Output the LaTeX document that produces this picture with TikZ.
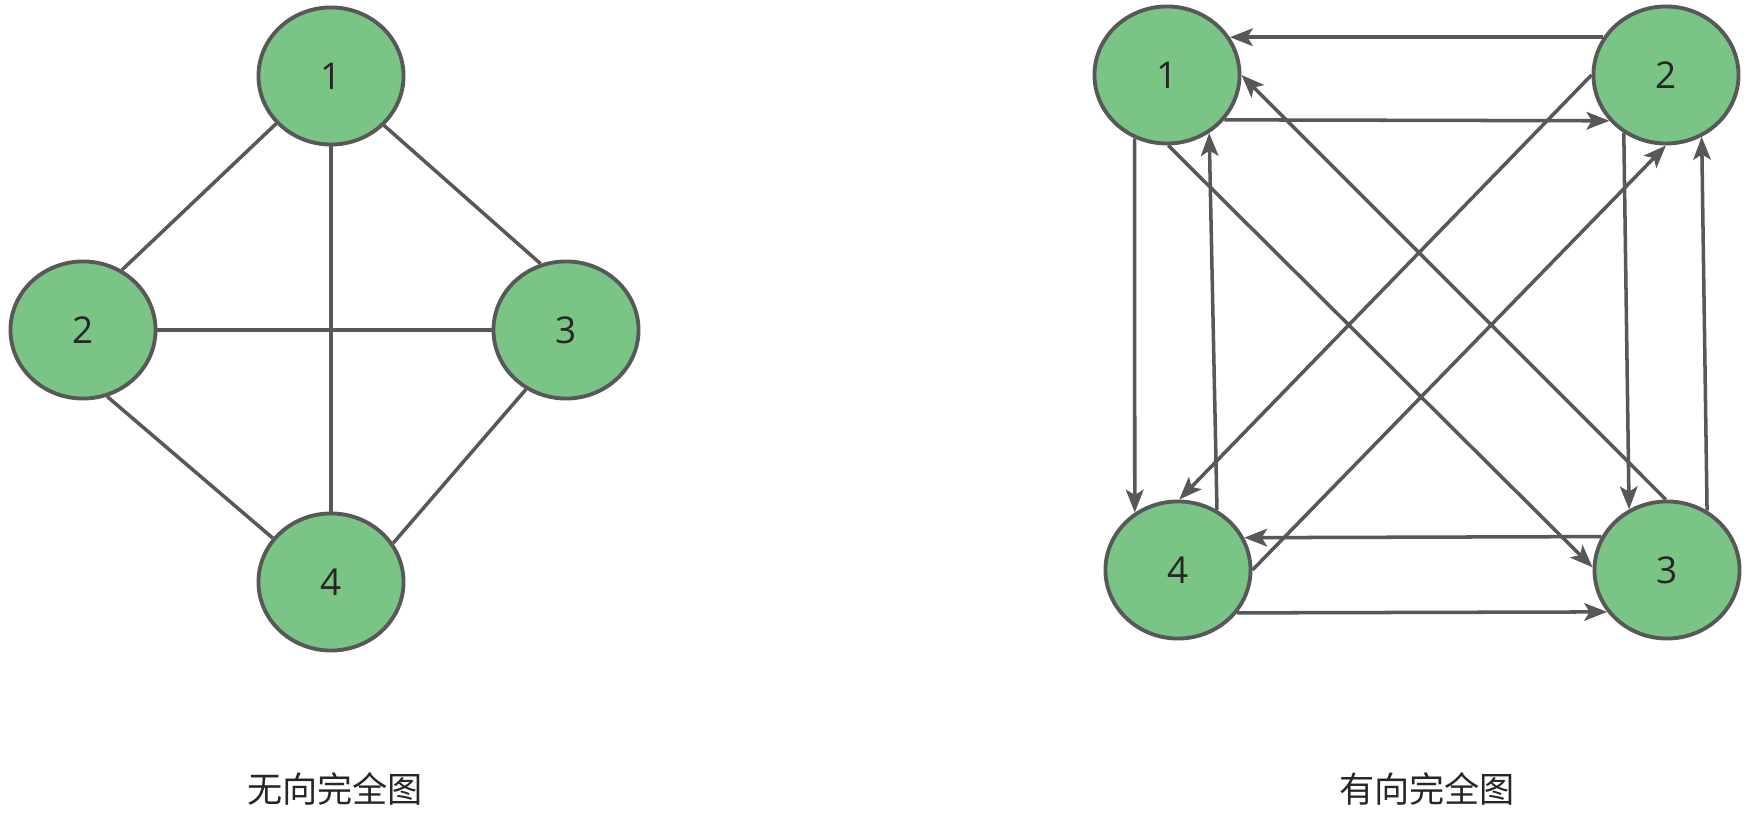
\documentclass[tikz,border=0pt]{standalone}
\usepackage{fontspec}
\setmainfont{Open Sans}
\newfontfamily\cjk{Noto Sans CJK SC}
\usepackage{tikz}
\usetikzlibrary{arrows.meta, shapes.geometric}
\definecolor{vgreen}{RGB}{122,196,134}
\definecolor{vgray}{RGB}{88,88,88}

\begin{document}
\begin{tikzpicture}[
            x=0.01cm, y=-0.01cm,
            vertex/.style={ellipse, draw=vgray, fill=vgreen, line width=1.1pt, minimum width=1.45cm, minimum height=1.37cm, inner sep=0pt, font=\fontsize{10.5}{12}\selectfont, text=black!85},
            link/.style={draw=vgray, line width=1pt},
            arrow/.style={link, -{Stealth[length=6.5pt, width=5pt, inset=1.5pt]}},
            caption/.style={font=\cjk\fontsize{10}{12}\selectfont, text=black!85}
        ]
            \useasboundingbox (0,0) rectangle (1753,831);

            % undirected
            \node[vertex] (u1) at (331,76) {1};
            \node[vertex] (u2) at (83,330) {2};
            \node[vertex] (u3) at (566,330) {3};
            \node[vertex] (u4) at (331,582) {4};

            \draw[link] (u1.221.2) -- (u2.57.2);
            \draw[link] (u1.-43.9) -- (u3.111.8);
            \draw[link] (u1.south) -- (u4.north);
            \draw[link] (u2.east) -- (u3.west);
            \draw[link] (u2.-70.2) -- (u4.143.1);
            \draw[link] (u3.236.1) -- (u4.32.3);

            \node[caption] (ucap) at (335,789) {无向完全图};

            % directed
            \node[vertex] (d1) at (1167,75) {1};
            \node[vertex] (d2) at (1666,75) {2};
            \node[vertex] (d3) at (1667,570) {3};
            \node[vertex] (d4) at (1178,570) {4};

            \draw[arrow] (d2.149) -- (d1.31);
            \draw[arrow] (d1.-38.5) -- (d2.219);
            \draw[arrow] (d1.243) -- (d4.127.7);
            \draw[arrow] (d4.57.7) -- (d1.-54);
            \draw[arrow] (d1.-89) -- (d3.178.5);
            \draw[arrow] (d3.91) -- (d1.0);
            \draw[arrow] (d2.180) -- (d4.89);
            \draw[arrow] (d4.0) -- (d2.-90);
            \draw[arrow] (d2.234.7) -- (d3.122.8);
            \draw[arrow] (d3.56.3) -- (d2.-60.3);
            \draw[arrow] (d3.153.4) -- (d4.26.2);
            \draw[arrow] (d4.-36.1) -- (d3.215.2);

            \node[caption] (dcap) at (1427,789) {有向完全图};
        \end{tikzpicture}
\end{document}
